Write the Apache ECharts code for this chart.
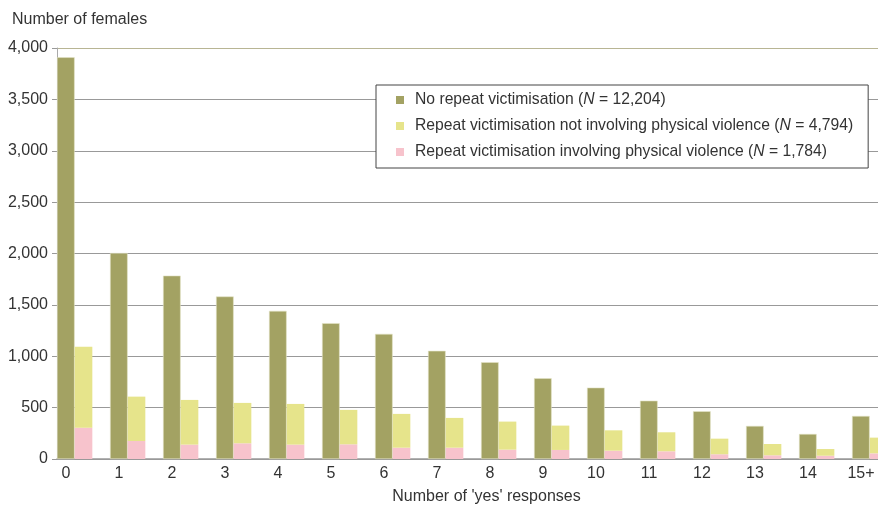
<!DOCTYPE html>
<html>
<head>
<meta charset="utf-8">
<script src="https://cdn.jsdelivr.net/npm/echarts@6/dist/echarts.min.js"></script>
<style>
  html, body { margin: 0; padding: 0; background: #fff; }
  #chart { width: 878px; height: 510px; }
</style>
</head>
<body>
<div id="chart"></div>
<script>
// number of 'yes' responses
const categories = ["0", "1", "2", "3", "4", "5", "6", "7", "8", "9", "10", "11", "12", "13", "14", "15+"];

const seriesNames = [
  "No repeat victimisation",
  "Repeat victimisation not involving physical violence",
  "Repeat victimisation involving physical violence",
];
const seriesN = ["12,204", "4,794", "1,784"];

const noRepeat = [3910, 2005, 1785, 1582, 1442, 1322, 1218, 1053, 942, 786, 695, 568, 465, 322, 244, 419];
// yellow is the part above the pink, so total bar height = pink + yellow
const repeatNonPhysical = [787, 432, 435, 393, 396, 335, 329, 290, 273, 237, 198, 185, 152, 110, 65, 153];
const repeatPhysical = [305, 175, 140, 153, 140, 143, 110, 110, 91, 88, 81, 75, 46, 36, 32, 55];
const spacer = categories.map(() => 0);

const yTicks = [0, 500, 1000, 1500, 2000, 2500, 3000, 3500, 4000];

const colors = ["#a3a263", "#e6e48b", "#f7c3cc"];
const font = "Liberation Sans, Arial, sans-serif";
const textColor = "#333";

const chart = echarts.init(document.getElementById("chart"));

const option = {
  animation: false,
  textStyle: { fontFamily: font },
  // plot runs past the right edge of the picture (last bar is cut off)
  grid: { left: 57, width: 848, top: 48, bottom: 51, outerBoundsMode: "none", containLabel: false },
  legend: {
    data: seriesNames,
    orient: "vertical",
    left: 376,
    top: 85,
    padding: [7, 15, 8, 20],
    backgroundColor: "#fff",
    borderColor: "#444",
    borderWidth: 1,
    borderRadius: 0,
    itemWidth: 8,
    itemHeight: 8,
    itemGap: 10,
    icon: "rect",
    itemStyle: { borderWidth: 0 },
    formatter: (name) => {
      const i = seriesNames.indexOf(name);
      return `{t|${name} (}{i|N}{t| = ${seriesN[i]})}`;
    },
    textStyle: {
      color: textColor,
      fontFamily: font,
      fontSize: 15.7,
      padding: [0, 0, 0, 6],
      rich: {
        t: { fontSize: 15.7, fontFamily: font, color: textColor, lineHeight: 16 },
        i: { fontSize: 15.7, fontFamily: font, color: textColor, fontStyle: "italic", lineHeight: 16 },
      },
    },
  },
  xAxis: {
    type: "category",
    data: categories,
    name: "Number of 'yes' responses",
    nameLocation: "middle",
    nameGap: 30,
    nameTextStyle: { color: textColor, fontSize: 16, fontFamily: font, padding: [0, 0, 0, 11] },
    axisLine: { lineStyle: { color: "#999", width: 1.5 } },
    axisTick: { show: false },
    axisLabel: {
      color: textColor,
      fontSize: 16,
      fontFamily: font,
      margin: 7,
      interval: 0,
      padding: [0, 35, 0, 0],
    },
  },
  yAxis: {
    type: "value",
    min: 0,
    max: 4000,
    interval: 500,
    name: "Number of females",
    nameLocation: "end",
    nameGap: 20,
    nameTextStyle: { color: textColor, fontSize: 16, fontFamily: font, align: "left", padding: [0, 0, 0, -45] },
    axisLine: { show: true, lineStyle: { color: "#aaa", width: 1 } },
    axisTick: { show: true, length: 5, lineStyle: { color: "#999" } },
    axisLabel: {
      color: textColor,
      fontSize: 16,
      fontFamily: font,
      margin: 9,
      formatter: (v) => (yTicks.includes(v) ? v.toLocaleString("en-US") : ""),
    },
    splitLine: {
      lineStyle: {
        color: ["#999", "#999", "#999", "#999", "#999", "#999", "#999", "#999", "#b8b594"],
        width: 1.2,
      },
    },
  },
  series: [
    {
      name: seriesNames[0],
      type: "bar",
      data: noRepeat,
      barGap: 0,
      barCategoryGap: 0,
      itemStyle: { color: colors[0], borderColor: "#e4e4c8", borderWidth: 0.6 },
    },
    {
      name: seriesNames[2],
      type: "bar",
      stack: "repeat",
      data: repeatPhysical,
      barGap: 0,
      barCategoryGap: 0,
      itemStyle: { color: colors[2] },
    },
    {
      name: seriesNames[1],
      type: "bar",
      stack: "repeat",
      data: repeatNonPhysical,
      barGap: 0,
      barCategoryGap: 0,
      itemStyle: { color: colors[1] },
    },
    {
      name: "spacer",
      type: "bar",
      data: spacer,
      barGap: 0,
      barCategoryGap: 0,
      silent: true,
      itemStyle: { color: "transparent" },
    },
  ],
};

chart.setOption(option);
</script>
</body>
</html>
